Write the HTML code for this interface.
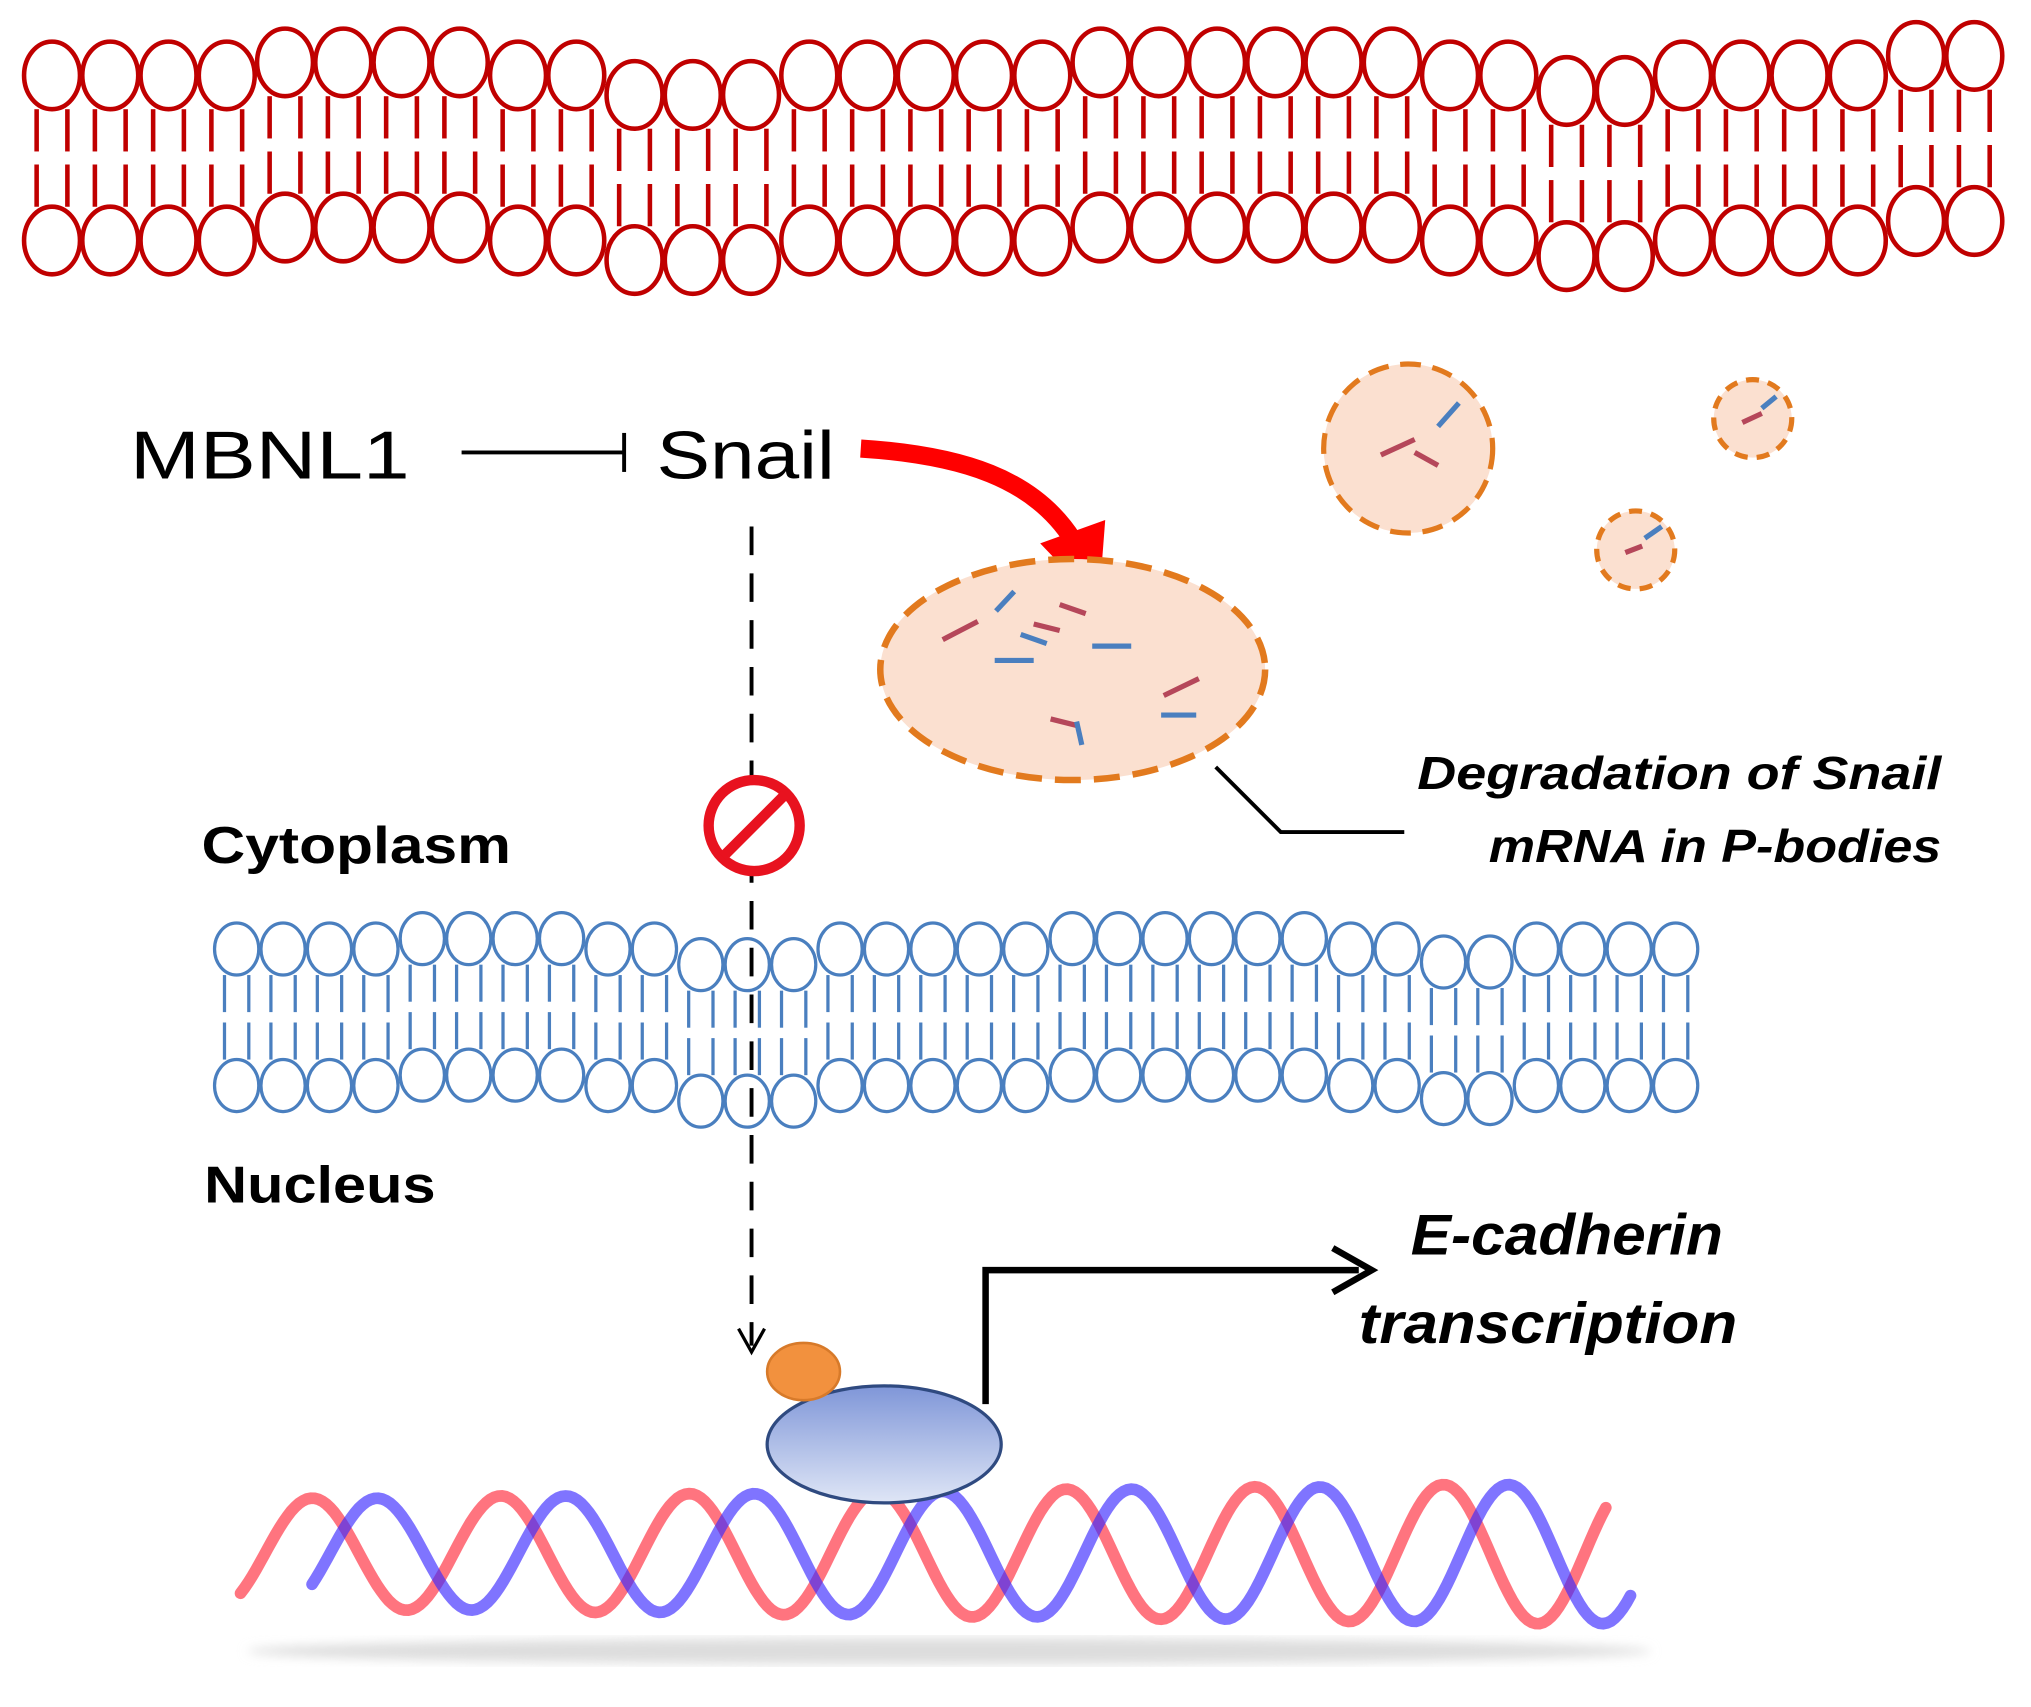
<!DOCTYPE html>
<html><head><meta charset="utf-8"><style>
html,body{margin:0;padding:0;background:#fff}
svg{display:block}
text{font-family:"Liberation Sans","DejaVu Sans",sans-serif}
</style></head><body>
<svg id="s" width="2031" height="1707" viewBox="0 0 1562 1313" preserveAspectRatio="none" xmlns="http://www.w3.org/2000/svg">
<defs>
<linearGradient id="bg" x1="0" y1="0" x2="0" y2="1"><stop offset="0" stop-color="#7f96d8"/><stop offset="1" stop-color="#dfe6f6"/></linearGradient>
<filter id="bl"><feGaussianBlur stdDeviation="4"/></filter>
</defs>
<g id="mem"></g>
<text x="100" y="368" font-size="52" textLength="215" lengthAdjust="spacingAndGlyphs">MBNL1</text>
<line x1="355" y1="348" x2="480" y2="348" stroke="#000" stroke-width="3"/>
<line x1="480" y1="333" x2="480" y2="363" stroke="#000" stroke-width="3"/>
<text x="505" y="368" font-size="52" textLength="137" lengthAdjust="spacingAndGlyphs">Snail</text>
<path d="M662,345 C740,350 795,368 825,415" fill="none" stroke="#f00" stroke-width="14"/>
<polygon points="800,418 850,400 845,465" fill="#f00"/>
<line x1="578" y1="405" x2="578" y2="1035" stroke="#000" stroke-width="3" stroke-dasharray="22,14"/>
<polyline points="568,1022 578,1040 588,1022" fill="none" stroke="#000" stroke-width="2.5"/>
<ellipse cx="825" cy="515" rx="148" ry="85" fill="#fbe0d0" stroke="#e27a1e" stroke-width="5" stroke-dasharray="20,10"/>
<circle cx="1083" cy="345" r="65" fill="#fbe0d0" stroke="#e27a1e" stroke-width="4" stroke-dasharray="16,9"/>
<circle cx="1348" cy="322" r="30" fill="#fbe0d0" stroke="#e27a1e" stroke-width="4" stroke-dasharray="10,7"/>
<circle cx="1258" cy="423" r="30" fill="#fbe0d0" stroke="#e27a1e" stroke-width="4" stroke-dasharray="10,7"/>
<g stroke-width="4">
<line x1="725" y1="492" x2="752" y2="478" stroke="#b5475a"/>
<line x1="766" y1="470" x2="780" y2="455" stroke="#4a7fbf"/>
<line x1="795" y1="480" x2="815" y2="485" stroke="#b5475a"/>
<line x1="815" y1="465" x2="835" y2="472" stroke="#b5475a"/>
<line x1="785" y1="488" x2="805" y2="495" stroke="#4a7fbf"/>
<line x1="765" y1="508" x2="795" y2="508" stroke="#4a7fbf"/>
<line x1="840" y1="497" x2="870" y2="497" stroke="#4a7fbf"/>
<line x1="895" y1="535" x2="922" y2="522" stroke="#b5475a"/>
<line x1="893" y1="550" x2="920" y2="550" stroke="#4a7fbf"/>
<line x1="808" y1="553" x2="828" y2="558" stroke="#b5475a"/>
<line x1="828" y1="555" x2="832" y2="573" stroke="#4a7fbf"/>
<line x1="1062" y1="350" x2="1088" y2="338" stroke="#b5475a"/>
<line x1="1088" y1="348" x2="1106" y2="358" stroke="#b5475a"/>
<line x1="1106" y1="328" x2="1122" y2="310" stroke="#4a7fbf"/>
<line x1="1340" y1="325" x2="1355" y2="318" stroke="#b5475a"/>
<line x1="1355" y1="314" x2="1366" y2="305" stroke="#4a7fbf"/>
<line x1="1250" y1="425" x2="1263" y2="420" stroke="#b5475a"/>
<line x1="1265" y1="414" x2="1278" y2="405" stroke="#4a7fbf"/>
</g>
<polyline points="935,590 985,640 1080,640" fill="none" stroke="#000" stroke-width="3"/>
<text x="1090" y="607" font-size="36" font-weight="bold" font-style="italic" textLength="403" lengthAdjust="spacingAndGlyphs">Degradation of Snail</text>
<text x="1145" y="663" font-size="36" font-weight="bold" font-style="italic" textLength="348" lengthAdjust="spacingAndGlyphs">mRNA in P-bodies</text>
<circle cx="580" cy="635" r="35" fill="#fff" stroke="#e8121f" stroke-width="8"/>
<line x1="556" y1="659" x2="604" y2="611" stroke="#e8121f" stroke-width="8"/>
<text x="155" y="664" font-size="40" font-weight="bold" textLength="238" lengthAdjust="spacingAndGlyphs">Cytoplasm</text>
<text x="157" y="925" font-size="40" font-weight="bold" textLength="178" lengthAdjust="spacingAndGlyphs">Nucleus</text>
<g id="dna"></g>
<ellipse cx="680" cy="1111" rx="90" ry="45" fill="url(#bg)" stroke="#2f4a80" stroke-width="2.5"/>
<ellipse cx="618" cy="1055" rx="28" ry="22" fill="#f2913e" stroke="#d77a2a" stroke-width="2"/>
<polyline points="758,1080 758,977 1045,977" fill="none" stroke="#000" stroke-width="5"/>
<polyline points="1025,960 1055,977 1025,994" fill="none" stroke="#000" stroke-width="5"/>
<text x="1085" y="965" font-size="44" font-weight="bold" font-style="italic" textLength="240" lengthAdjust="spacingAndGlyphs">E-cadherin</text>
<text x="1045" y="1033" font-size="44" font-weight="bold" font-style="italic" textLength="291" lengthAdjust="spacingAndGlyphs">transcription</text>
</svg>
<script>
var NS="http://www.w3.org/2000/svg";
function el(p,t,a){var e=document.createElementNS(NS,t);for(var k in a)e.setAttribute(k,a[k]);p.appendChild(e);return e;}
var mem=document.getElementById("mem");
function membrane(x0,dx,n,yt,yb,rx,ry,offs,col,sw,gap){
 for(var i=0;i<n;i++){var x=x0+i*dx,o=offs[i%offs.length];
  var t=yt+o,b=yb+o,m=(t+b)/2;
  [-rx*0.55,rx*0.55].forEach(function(d){
   el(mem,"line",{x1:x+d,y1:t+ry,x2:x+d,y2:m-gap,stroke:col,"stroke-width":sw});
   el(mem,"line",{x1:x+d,y1:m+gap,x2:x+d,y2:b-ry,stroke:col,"stroke-width":sw});
  });
  el(mem,"ellipse",{cx:x,cy:t,rx:rx,ry:ry,fill:"#fff",stroke:col,"stroke-width":sw});
  el(mem,"ellipse",{cx:x,cy:b,rx:rx,ry:ry,fill:"#fff",stroke:col,"stroke-width":sw});
 }
}
membrane(40,44.8,34,58,185,21.5,26,[0,0,0,0,-10,-10,-10,-10,0,0,15,15,15,0,0,0,0,0,-10,-10,-10,-10,-10,-10,0,0,12,12,0,0,0,0,-15,-15],"#c00000",3.5,5);
membrane(182,35.7,32,730,835,17,20,[0,0,0,0,-8,-8,-8,-8,0,0,12,12,12,0,0,0,0,0,-8,-8,-8,-8,-8,-8,0,0,10,10,0,0,0,0],"#4a7fbf",2.5,4);
var dna=document.getElementById("dna");
function wave(x0,x1,ph,col){var d="";for(var x=x0;x<=x1;x+=3){var a=42+(x-x0)*0.012;var y=1195-a*Math.cos((x-ph)/145*2*Math.PI);d+=(x==x0?"M":"L")+x+","+y.toFixed(1);}
 el(dna,"path",{d:d,fill:"none",stroke:col,"stroke-width":9,"stroke-opacity":0.65,"stroke-linecap":"round"});}
el(dna,"ellipse",{cx:730,cy:1270,rx:540,ry:10,fill:"#ddd",filter:"url(#bl)"});
wave(185,1235,240,"#ff2a3a");
wave(240,1255,290,"#3a2aff");
</script>
</body></html>
